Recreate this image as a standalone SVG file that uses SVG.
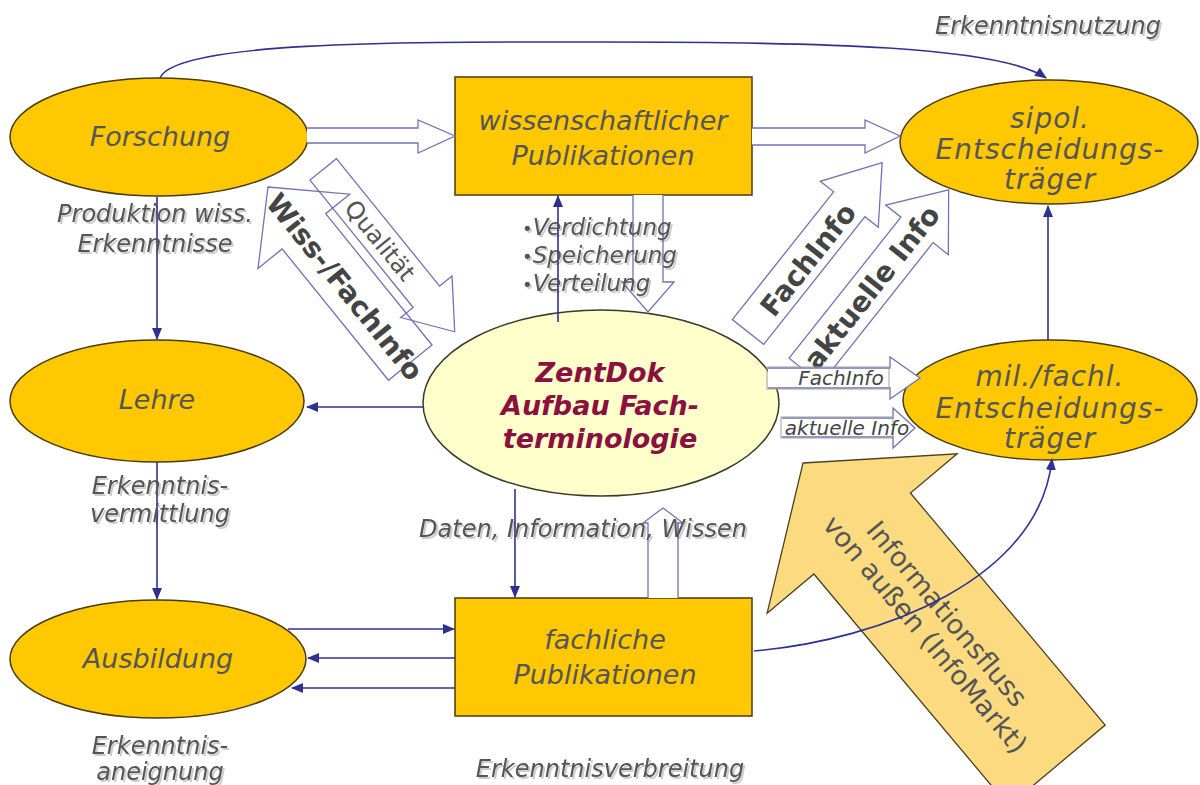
<svg xmlns="http://www.w3.org/2000/svg" width="1200" height="785" viewBox="0 0 1200 785">
<defs>
  <marker id="ah" viewBox="0 0 12 10" refX="11" refY="5" markerWidth="12" markerHeight="10" markerUnits="userSpaceOnUse" orient="auto">
    <path d="M0,0 L12,5 L0,10 z" fill="#2e3192"/>
  </marker>
  <filter id="sh" x="-10%" y="-40%" width="130%" height="200%">
    <feDropShadow dx="2" dy="2" stdDeviation="0.7" flood-color="#000" flood-opacity="0.2"/>
  </filter>
</defs>
<style>
  .org{fill:#FFC800;stroke:#4a3a10;stroke-width:1.5}
  .core{fill:#FFFFCC;stroke:#3a3a2a;stroke-width:1.5}
  .t{font-family:"DejaVu Sans",Verdana,sans-serif;font-style:italic;font-size:27px;fill:#555;text-anchor:middle}
  .w{font-size:28px;letter-spacing:1px}
  .zt{font-family:"DejaVu Sans",Verdana,sans-serif;font-style:italic;font-weight:bold;font-size:27px;fill:#8B1040;text-anchor:middle}
  .lb{font-family:"DejaVu Sans",Verdana,sans-serif;font-style:italic;font-size:24px;fill:#555;text-anchor:middle;filter:url(#sh)}
  .li{font-family:"DejaVu Sans",Verdana,sans-serif;font-style:italic;font-size:23px;fill:#555;text-anchor:start;filter:url(#sh)}
  .c{fill:none;stroke:#2e3192;stroke-width:1.6;marker-end:url(#ah)}
  .ho{fill:#fff;stroke:#7272b4;stroke-width:1.3}
  .hn{fill:none;stroke:#7272b4;stroke-width:1.3}
  .box{fill:none;stroke:#a0a0a0;stroke-width:1}
  .bt{font-family:"DejaVu Sans",Verdana,sans-serif;font-weight:bold;font-size:28px;fill:#444;text-anchor:middle}
  .qt{font-family:"DejaVu Sans",Verdana,sans-serif;font-size:24px;fill:#555;text-anchor:middle}
  .st{font-family:"DejaVu Sans",Verdana,sans-serif;font-style:italic;font-size:20px;fill:#444;text-anchor:middle}
  .yl{fill:#FCDB80;stroke:#4a4020;stroke-width:1.3}
  .yt{font-family:"DejaVu Sans",Verdana,sans-serif;font-size:27px;fill:#555;text-anchor:middle}
</style>

<rect width="1200" height="785" fill="#fff"/>

<!-- external information flow (large block arrow) -->
<g id="infomarkt" transform="translate(803,463) rotate(50)">
  <polygon class="yl" points="0,0 92,-124 92,-63 395,-63 395,63 92,63 92,124"/>
  <text class="yt" x="208" y="-4">Informationsfluss</text>
  <text class="yt" x="210" y="26">von außen (InfoMarkt)</text>
</g>

<!-- quality / knowledge exchange with research -->
<g id="wiss-fachinfo" transform="translate(268,187) rotate(51)">
  <polygon class="hn" points="21,-71 185,-71 185,-87 230,-54 185,-21 185,-37 21,-37"/>
  <text class="qt" x="112" y="-45">Qualität</text>
  <polygon class="hn" points="0,0 57,-59 57,-28 226,-28 226,28 57,28 57,59"/>
  <text class="bt" x="126" y="13">Wiss-/FachInfo</text>
</g>

<!-- information for political decision makers -->
<g id="fachinfo-sipol" transform="translate(748,332) rotate(-51.6)">
  <polygon class="ho" points="0,-20 163,-20 163,-37 216,0 163,37 163,20 0,20"/>
  <text class="bt" x="94" y="12">FachInfo</text>
  <polygon class="ho" points="5,48.5 185,48.5 185,29 236,69 185,109 185,89.5 5,89.5"/>
  <text class="bt" x="112" y="79">aktuelle Info</text>
</g>

<!-- nodes -->
<g id="forschung">
  <ellipse class="org" cx="159" cy="137" rx="149" ry="59"/>
  <text class="t" x="160" y="146">Forschung</text>
</g>
<g id="wiss-publikationen">
  <rect class="org" x="455" y="77" width="297" height="118"/>
  <text class="t" x="603" y="130">wissenschaftlicher</text>
  <text class="t" x="603" y="165">Publikationen</text>
</g>
<g id="sipol">
  <ellipse class="org" cx="1049" cy="142" rx="149" ry="62"/>
  <text class="t w" x="1050" y="128">sipol.</text>
  <text class="t w" x="1050" y="159">Entscheidungs-</text>
  <text class="t w" x="1050" y="189">träger</text>
</g>
<g id="lehre">
  <ellipse class="org" cx="157" cy="401" rx="147" ry="61"/>
  <text class="t" x="157" y="409">Lehre</text>
</g>
<g id="zentdok">
  <ellipse class="core" cx="601" cy="403" rx="178" ry="93"/>
  <text class="zt" x="600" y="382">ZentDok</text>
  <text class="zt" x="600" y="415">Aufbau Fach-</text>
  <text class="zt" x="600" y="448">terminologie</text>
</g>
<g id="mil-fachl">
  <ellipse class="org" cx="1050" cy="400" rx="147" ry="60"/>
  <text class="t w" x="1050" y="386">mil./fachl.</text>
  <text class="t w" x="1050" y="418">Entscheidungs-</text>
  <text class="t w" x="1050" y="448">träger</text>
</g>
<g id="ausbildung">
  <ellipse class="org" cx="158" cy="659" rx="148" ry="59"/>
  <text class="t" x="158" y="668">Ausbildung</text>
</g>
<g id="fachliche-publikationen">
  <rect class="org" x="455" y="598" width="297" height="118"/>
  <text class="t" x="605" y="649">fachliche</text>
  <text class="t" x="605" y="684">Publikationen</text>
</g>

<!-- connectors -->
<g id="connectors">
  <!-- hollow flow arrows -->
  <path class="ho" d="M307,128 H418 V120 L455,136 L418,153 V143 H307"/>
  <path class="ho" d="M752,128 H865 V120 L900,136 L865,153 V145 H752"/>
  <path class="ho" d="M633,195 V282 H622 L648,312 L674,282 H663 V195"/>
  <path class="ho" d="M648,598 V523 H643 L663,508 L683,523 H678 V598"/>
  <path class="ho" d="M768,368 H890 V357 L920,378 L890,399 V388 H768"/>
  <rect class="box" x="767" y="367" width="122" height="22"/>
  <text class="st" x="841" y="385">FachInfo</text>
  <path class="ho" d="M782,418 H893 V408 L915,428 L893,448 V437 H782"/>
  <rect class="box" x="781" y="417" width="112" height="21"/>
  <text class="st" x="847" y="435">aktuelle Info</text>

  <!-- plain connectors -->
  <path class="c" d="M160,78 C175,40 420,42 600,42 C820,42 1000,46 1046,78"/>
  <path class="c" d="M157,197 V339"/>
  <path class="c" d="M157,462 V599"/>
  <path class="c" d="M423,407 H307"/>
  <path class="c" d="M558,322 V196"/>
  <path class="c" d="M515,489 V597"/>
  <path class="c" d="M1048,340 V206"/>
  <path class="c" d="M288,629 H454"/>
  <path class="c" d="M455,658 H308"/>
  <path class="c" d="M455,688 H292"/>
  <path class="c" d="M754,651 C880,640 1040,580 1052,459"/>
</g>

<!-- labels -->
<g id="labels">
  <text class="lb" x="1048" y="34">Erkenntnisnutzung</text>
  <text class="lb" x="155" y="222">Produktion wiss.</text>
  <text class="lb" x="155" y="252">Erkenntnisse</text>
  <text class="lb" x="160" y="494">Erkenntnis-</text>
  <text class="lb" x="160" y="522">vermittlung</text>
  <text class="lb" x="160" y="754">Erkenntnis-</text>
  <text class="lb" x="160" y="780">aneignung</text>
  <text class="lb" x="610" y="777">Erkenntnisverbreitung</text>
  <text class="lb" x="583" y="537">Daten, Information, Wissen</text>
  <text class="li" x="522" y="235"><tspan font-style="normal" font-size="18">•</tspan>Verdichtung</text>
  <text class="li" x="522" y="263"><tspan font-style="normal" font-size="18">•</tspan>Speicherung</text>
  <text class="li" x="522" y="291"><tspan font-style="normal" font-size="18">•</tspan>Verteilung</text>
</g>
</svg>
